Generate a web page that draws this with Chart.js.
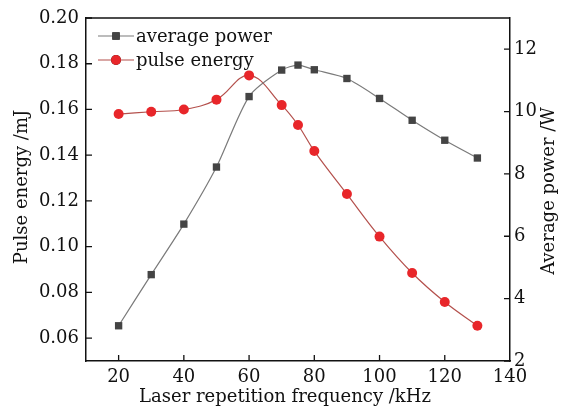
<!DOCTYPE html>
<html>
<head>
<meta charset="utf-8">
<script src="https://cdn.jsdelivr.net/npm/chart.js@4"></script>
<style>
  html, body { margin: 0; padding: 0; background: #fff; }
  #wrap { width: 561px; height: 408px; }
</style>
</head>
<body>
<div id="wrap"><canvas id="chart" width="561" height="408"></canvas></div>
<script>
// values
const FREQ = [20, 30, 40, 50, 60, 70, 75, 80, 90, 100, 110, 120, 130];
const AVG_POWER = [3.13, 4.77, 6.39, 8.22, 10.48, 11.33, 11.49, 11.34, 11.06, 10.42, 9.72, 9.08, 8.51];
const PULSE_ENERGY = [0.158, 0.159, 0.160, 0.1643, 0.1749, 0.1619, 0.1532, 0.1418, 0.123, 0.1044, 0.0885, 0.0758, 0.0654];

const X_TICKS = [20, 40, 60, 80, 100, 120, 140];
const ENERGY_TICKS = [0.06, 0.08, 0.10, 0.12, 0.14, 0.16, 0.18, 0.20];
const POWER_TICKS = [2, 4, 6, 8, 10, 12];

const FONT = 'DejaVu Serif';
const SIZE = 18;
const INK = '#111111';

// inward ticks, top frame line, axis titles, legend
const frame = {
  id: 'frame',
  afterDraw(chart) {
    const { ctx, chartArea: a, scales } = chart;
    ctx.save();
    ctx.strokeStyle = INK;
    ctx.lineWidth = 1.5;
    ctx.beginPath();
    ctx.moveTo(a.left, a.top);
    ctx.lineTo(a.right, a.top);
    ctx.stroke();

    const len = 6;
    ctx.lineWidth = 1.3;
    ctx.beginPath();
    scales.x.ticks.forEach(t => {
      const px = scales.x.getPixelForValue(t.value);
      if (px > a.left + 1 && px < a.right - 1) { ctx.moveTo(px, a.bottom); ctx.lineTo(px, a.bottom - len); }
    });
    scales.yE.ticks.forEach(t => {
      const py = scales.yE.getPixelForValue(t.value);
      ctx.moveTo(a.left, py); ctx.lineTo(a.left + len, py);
    });
    scales.yP.ticks.forEach(t => {
      const py = scales.yP.getPixelForValue(t.value);
      ctx.moveTo(a.right, py); ctx.lineTo(a.right - len, py);
    });
    ctx.stroke();

    // axis titles
    ctx.fillStyle = INK;
    ctx.font = `${SIZE}px "${FONT}"`;
    ctx.textAlign = 'center';
    ctx.textBaseline = 'middle';
    ctx.fillText('Laser repetition frequency /kHz', 285, 397);
    ctx.save();
    ctx.translate(22, 187);
    ctx.rotate(-Math.PI / 2);
    ctx.fillText('Pulse energy /mJ', 0, 0);
    ctx.restore();
    ctx.save();
    ctx.translate(549, 191);
    ctx.rotate(-Math.PI / 2);
    ctx.fillText('Average power /W', 0, 0);
    ctx.restore();

    // legend
    const rows = [
      { label: 'average power', ds: chart.data.datasets[0], y: 36 },
      { label: 'pulse energy', ds: chart.data.datasets[1], y: 60 }
    ];
    ctx.textAlign = 'left';
    rows.forEach(r => {
      ctx.strokeStyle = r.ds.borderColor;
      ctx.lineWidth = 1.2;
      ctx.beginPath();
      ctx.moveTo(98, r.y); ctx.lineTo(134, r.y);
      ctx.stroke();
      Chart.helpers.drawPoint(ctx, {
        pointStyle: r.ds.pointStyle, radius: r.ds.pointRadius, borderWidth: 0
      }, 116, r.y);
      ctx.fillStyle = r.ds.pointBackgroundColor;
      ctx.fill();
      ctx.fillStyle = INK;
      ctx.fillText(r.label, 136, r.y + 1);
    });
    ctx.restore();
  }
};

new Chart(document.getElementById('chart'), {
  type: 'line',
  data: {
    datasets: [{
      label: 'average power',
      data: FREQ.map((f, i) => ({ x: f, y: AVG_POWER[i] })),
      yAxisID: 'yP',
      borderColor: '#7a7a7a',
      borderWidth: 1.2,
      pointStyle: 'rect',
      pointRadius: 5.2,
      pointBorderWidth: 0,
      pointBackgroundColor: '#444444',
      tension: 0.25
    }, {
      label: 'pulse energy',
      data: FREQ.map((f, i) => ({ x: f, y: PULSE_ENERGY[i] })),
      yAxisID: 'yE',
      borderColor: '#b4504c',
      borderWidth: 1.2,
      pointStyle: 'circle',
      pointRadius: 5,
      pointBorderWidth: 0,
      pointBackgroundColor: '#e8262a',
      tension: 0.4
    }]
  },
  options: {
    responsive: false,
    animation: false,
    layout: { padding: { top: 18, left: 0, right: 0, bottom: 0 } },
    plugins: { legend: { display: false }, tooltip: { enabled: false } },
    scales: {
      x: {
        type: 'linear',
        min: 10, max: 140,
        afterBuildTicks: s => { s.ticks = X_TICKS.map(v => ({ value: v })); },
        afterFit: s => { s.height = 47; },
        grid: { display: false, drawTicks: false },
        border: { display: true, color: INK, width: 1.5 },
        ticks: { color: INK, padding: 6, maxRotation: 0, font: { family: FONT, size: SIZE } }
      },
      yE: {
        position: 'left',
        min: 0.05, max: 0.20,
        afterBuildTicks: s => { s.ticks = ENERGY_TICKS.map(v => ({ value: v })); },
        afterFit: s => { s.width = 86; },
        grid: { display: false, drawTicks: false },
        border: { display: true, color: INK, width: 1.5 },
        ticks: { color: INK, padding: 7, font: { family: FONT, size: SIZE }, callback: v => v.toFixed(2) }
      },
      yP: {
        position: 'right',
        min: 2, max: 13,
        afterBuildTicks: s => { s.ticks = POWER_TICKS.map(v => ({ value: v })); },
        afterFit: s => { s.width = 51; },
        grid: { display: false, drawTicks: false },
        border: { display: true, color: INK, width: 1.5 },
        ticks: { color: INK, padding: 4, font: { family: FONT, size: SIZE } }
      }
    }
  },
  plugins: [frame]
});
</script>
</body>
</html>
